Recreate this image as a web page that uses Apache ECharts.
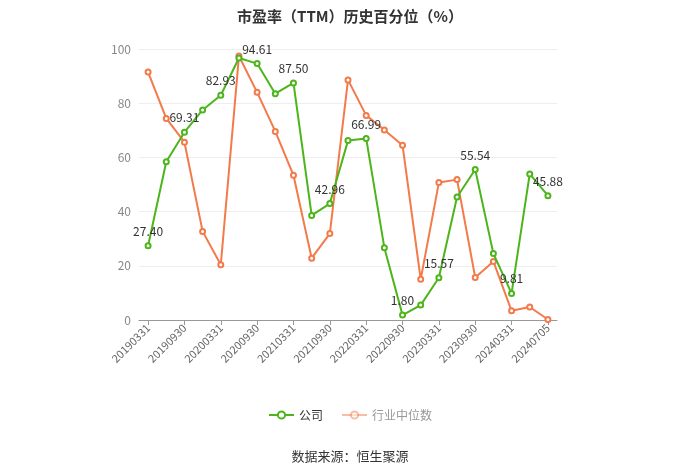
<!DOCTYPE html>
<html>
<head>
<meta charset="utf-8">
<script src="https://cdn.jsdelivr.net/npm/echarts@6/dist/echarts.min.js"></script>
<style>
  html, body { margin: 0; padding: 0; background: #fff; }
  #main { width: 700px; height: 474px; }
</style>
</head>
<body>
<div id="main"></div>
<script>
// 日付（四半期末 + 最新日）
var dates = [
  '20190331', '20190630', '20190930', '20191231',
  '20200331', '20200630', '20200930', '20201231',
  '20210331', '20210630', '20210930', '20211231',
  '20220331', '20220630', '20220930', '20221231',
  '20230331', '20230630', '20230930', '20231231',
  '20240331', '20240630', '20240705'
]
// 公司
var companyVals = [
  27.40, 58.4, 69.31, 77.5, 82.93, 96.7, 94.61, 83.5, 87.50, 38.6, 42.96, 66.2,
  66.99, 26.7, 1.80, 5.5, 15.57, 45.4, 55.54, 24.5, 9.81, 53.9, 45.88
]
// 行业中位数
var industryVals = [
  91.5, 74.4, 65.6, 32.7, 20.4, 97.4, 84.0, 69.6, 53.4, 22.8, 31.9, 88.6,
  75.5, 70.1, 64.5, 15.0, 50.7, 51.8, 15.7, 21.6, 3.4, 4.8, 0.2
]
var yTicks = [0, 20, 40, 60, 80, 100]

var FONT = '"Noto Sans CJK SC", "Open Sans", sans-serif'
var chart = echarts.init(document.getElementById('main'))

var option = {
  backgroundColor: '#fff',
  textStyle: { fontFamily: FONT },
  title: {
    text: '市盈率（TTM）历史百分位（%）',
    left: 'center',
    top: 4,
    textStyle: { fontSize: 15, fontWeight: 'bold', color: '#333', fontFamily: FONT }
  },
  legend: {
    bottom: 48,
    left: 'center',
    itemWidth: 25,
    itemHeight: 9,
    itemGap: 18,
    textStyle: { fontSize: 12, color: '#333' },
    data: [
      { name: '公司' },
      {
        name: '行业中位数',
        itemStyle: { opacity: 0.5 },
        lineStyle: { opacity: 0.5 },
        textStyle: { color: '#999' }
      }
    ]
  },
  graphic: [{
    type: 'text',
    left: 'center',
    top: 450,
    style: { text: '数据来源：恒生聚源', fontSize: 13, fill: '#333', fontFamily: FONT }
  }],
  grid: { left: 139, right: 143, top: 49, bottom: 154 },
  xAxis: {
    type: 'category',
    boundaryGap: true,
    data: dates,
    axisLine: { lineStyle: { color: '#999' } },
    axisTick: { show: true, alignWithLabel: true, interval: 1, lineStyle: { color: '#999' } },
    axisLabel: { interval: 1, rotate: 45, color: '#666', fontSize: 11, margin: 6 }
  },
  yAxis: {
    type: 'value',
    min: yTicks[0],
    max: yTicks[yTicks.length - 1],
    interval: 20,
    axisLine: { show: false },
    axisTick: { show: false },
    axisLabel: { color: '#888', fontSize: 12, margin: 8 },
    splitLine: { lineStyle: { color: '#eee' } }
  },
  series: [
    {
      name: '公司',
      type: 'line',
      data: companyVals,
      symbol: 'emptyCircle',
      symbolSize: 5,
      color: '#4db51b',
      lineStyle: { width: 2, color: '#4db51b' },
      z: 3,
      label: {
        show: true,
        position: 'top',
        color: '#333',
        fontSize: 12,
        formatter: function (p) {
          return p.dataIndex % 2 === 0 ? p.value.toFixed(2) : ''
        }
      }
    },
    {
      name: '行业中位数',
      type: 'line',
      data: industryVals,
      symbol: 'emptyCircle',
      symbolSize: 5,
      color: '#f37a4a',
      lineStyle: { width: 2, color: '#f37a4a' },
      z: 2
    }
  ]
}
option && chart.setOption(option)
</script>
</body>
</html>
